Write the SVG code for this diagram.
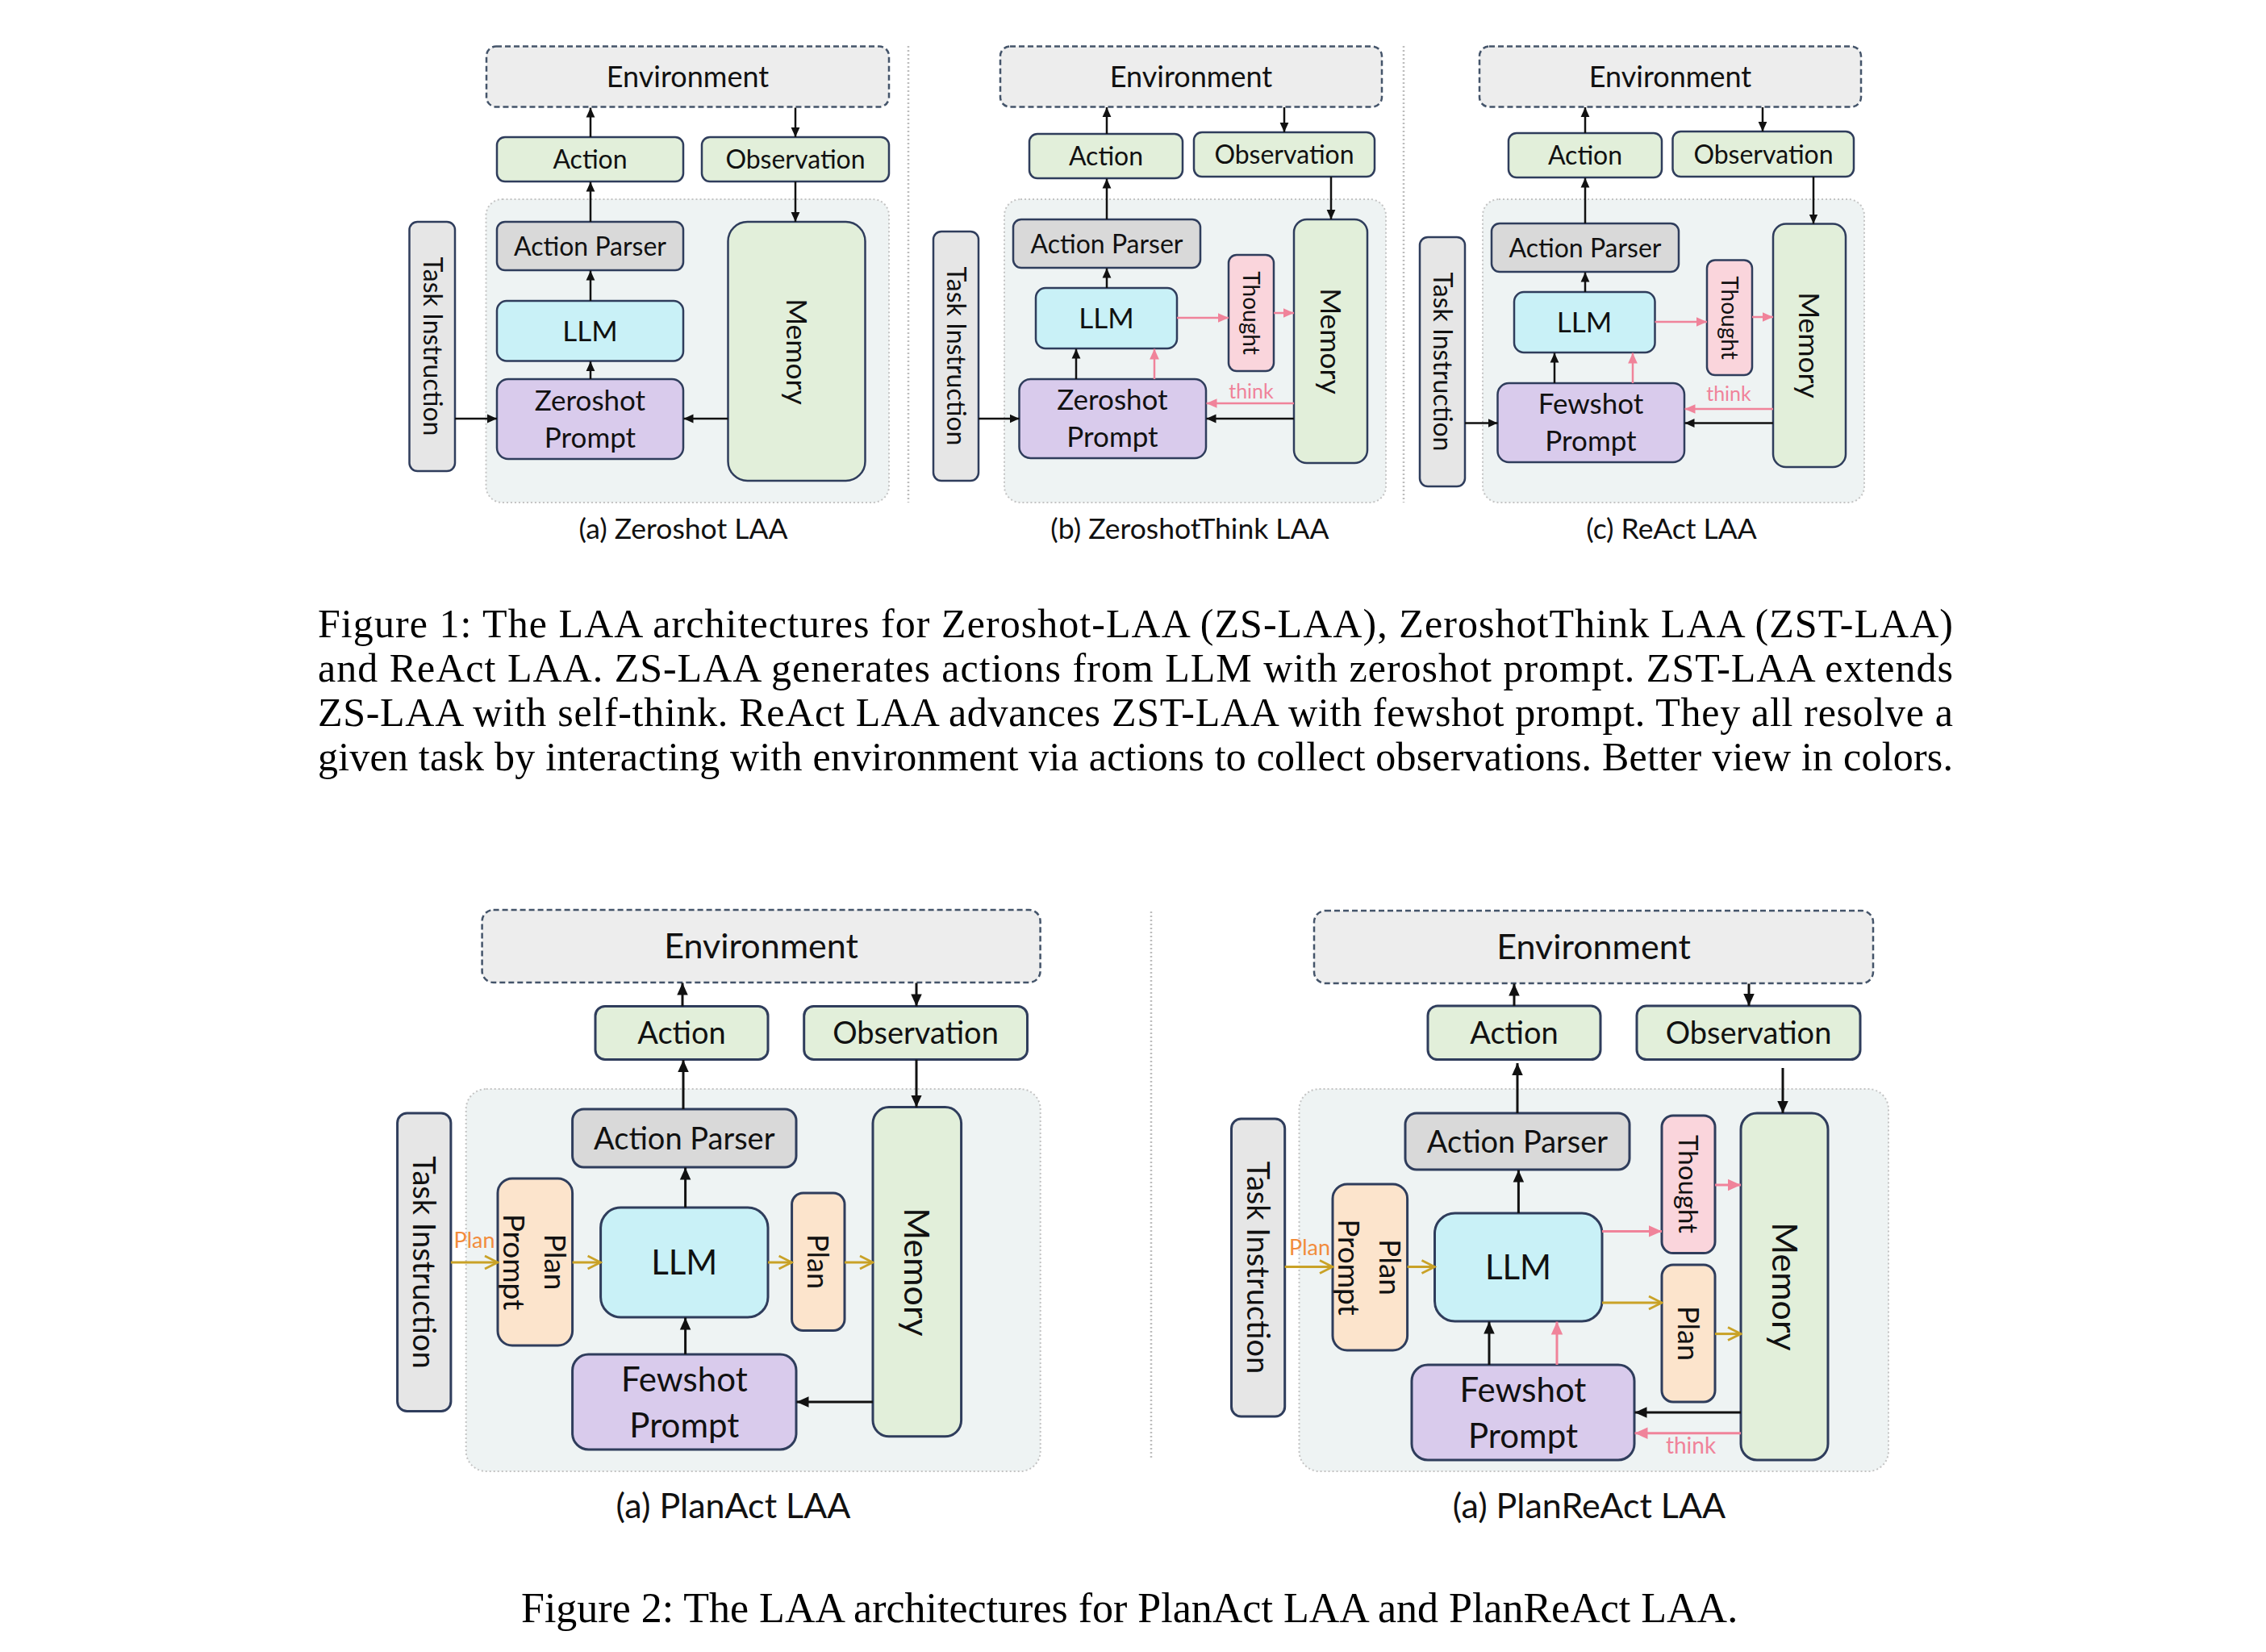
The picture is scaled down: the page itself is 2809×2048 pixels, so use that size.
<svg xmlns="http://www.w3.org/2000/svg" width="2809" height="2048" viewBox="0 0 2809 2048">
<style>
.bg{fill:#ffffff}
.cont{fill:#EEF3F3;stroke:#C4C4C4;stroke-width:2;stroke-dasharray:2 3}
.env{fill:#EDEDED;stroke:#44546A;stroke-width:2.5;stroke-dasharray:7 4}
.n{stroke:#2F3D5C;stroke-width:2.5}
.nb{stroke:#2F3D5C;stroke-width:3}
.green{fill:#E2EFDA}
.gray{fill:#D9D9D9}
.llm{fill:#C9F1F7}
.prompt{fill:#D9CBEC}
.thought{fill:#FAD5DC}
.plan{fill:#FCE4CC}
.task{fill:#E6E6E6}
.div{stroke:#BDBDBD;stroke-width:2.5;stroke-dasharray:2 3;fill:none}
text{font-family:Lato,"Liberation Sans",sans-serif;fill:#111;text-anchor:middle}
.cap{font-family:"Liberation Serif","Times New Roman",serif;text-anchor:start;fill:#000}
.k{stroke:#111;fill:none}
.p{stroke:#F0839A;fill:none}
.g{stroke:#C9A227;fill:none}
.w1{stroke-width:2.5}
.w2{stroke-width:3}
.think{fill:#F0839A}
.planlbl{fill:#F28C3C}
</style>
<defs>
<marker id="ak" viewBox="0 0 10 10" refX="10" refY="5" markerWidth="12" markerHeight="12" markerUnits="userSpaceOnUse" orient="auto"><path d="M0,0.5 L10,5 L0,9.5 z" fill="#111"/></marker>
<marker id="akb" viewBox="0 0 10 10" refX="10" refY="5" markerWidth="15" markerHeight="15" markerUnits="userSpaceOnUse" orient="auto"><path d="M0,0.5 L10,5 L0,9.5 z" fill="#111"/></marker>
<marker id="ap" viewBox="0 0 10 10" refX="10" refY="5" markerWidth="13" markerHeight="13" markerUnits="userSpaceOnUse" orient="auto"><path d="M0,0.5 L10,5 L0,9.5 z" fill="#F0839A"/></marker>
<marker id="apb" viewBox="0 0 10 10" refX="10" refY="5" markerWidth="16" markerHeight="16" markerUnits="userSpaceOnUse" orient="auto"><path d="M0,0.5 L10,5 L0,9.5 z" fill="#F0839A"/></marker>
<marker id="ag" viewBox="0 0 10 10" refX="9" refY="5" markerWidth="20" markerHeight="20" markerUnits="userSpaceOnUse" orient="auto"><path d="M1,1 L9,5 L1,9" fill="none" stroke="#C9A227" stroke-width="1.4"/></marker>
</defs>
<rect class="bg" x="0" y="0" width="2809" height="2048"/>

<!-- containers and dividers -->
<g id="backgrounds">
<rect class="cont" x="602.5" y="247" width="499.5" height="376" rx="20"/>
<rect class="cont" x="1245" y="247" width="473" height="376" rx="20"/>
<rect class="cont" x="1838" y="247" width="473" height="376" rx="20"/>
<rect class="cont" x="577.7" y="1350" width="712" height="474" rx="25"/>
<rect class="cont" x="1610.5" y="1350" width="730.5" height="474" rx="25"/>
<line class="div" x1="1126" y1="57" x2="1126" y2="623"/>
<line class="div" x1="1740" y1="57" x2="1740" y2="623"/>
<line class="div" x1="1427" y1="1130" x2="1427" y2="1810"/>
</g>

<!-- ===== Panel (a) Zeroshot ===== -->
<g id="a-environment"><rect class="env" x="603" y="57.5" width="499" height="75" rx="12"/><text x="852.5" y="108" font-size="36">Environment</text></g>
<g id="a-action"><rect class="n green" x="616" y="170" width="231" height="55" rx="10"/><text x="731.5" y="209" font-size="32">Action</text></g>
<g id="a-observation"><rect class="n green" x="870" y="170" width="232" height="55" rx="10"/><text x="986" y="209" font-size="32">Observation</text></g>
<g id="a-parser"><rect class="n gray" x="616" y="275" width="231" height="60" rx="10"/><text x="731.5" y="316.5" font-size="32">Action Parser</text></g>
<g id="a-llm"><rect class="n llm" x="616" y="373" width="231" height="74.5" rx="12"/><text x="731.5" y="423" font-size="35">LLM</text></g>
<g id="a-prompt"><rect class="n prompt" x="616" y="470" width="231" height="99" rx="14"/><text x="731.5" y="509" font-size="35">Zeroshot</text><text x="731.5" y="555" font-size="35">Prompt</text></g>
<g id="a-memory"><rect class="n green" x="902.5" y="275" width="170" height="321" rx="24"/><text transform="translate(987.5,436) rotate(90)" y="12.6" font-size="35.5">Memory</text></g>
<g id="a-task"><rect class="n task" x="507.5" y="275" width="56.5" height="309" rx="10"/><text transform="translate(536,429.5) rotate(90)" y="11.5" font-size="32">Task Instruction</text></g>
<text x="847" y="668" font-size="35.5">(a) Zeroshot LAA</text>

<!-- ===== Panel (b) ZeroshotThink ===== -->
<g id="b-environment"><rect class="env" x="1240" y="57.5" width="473" height="75" rx="12"/><text x="1476.5" y="108" font-size="36">Environment</text></g>
<g id="b-action"><rect class="n green" x="1276" y="166" width="190" height="55" rx="10"/><text x="1371" y="205" font-size="32">Action</text></g>
<g id="b-observation"><rect class="n green" x="1480" y="164" width="224" height="55" rx="10"/><text x="1592" y="203" font-size="32">Observation</text></g>
<g id="b-parser"><rect class="n gray" x="1256" y="272" width="232" height="60" rx="10"/><text x="1372" y="313.5" font-size="32">Action Parser</text></g>
<g id="b-llm"><rect class="n llm" x="1284" y="357" width="175" height="75" rx="12"/><text x="1371.5" y="407" font-size="35">LLM</text></g>
<g id="b-thought"><rect class="n thought" x="1523" y="316" width="56" height="144" rx="10"/><text transform="translate(1551,388) rotate(90)" y="10" font-size="28">Thought</text></g>
<g id="b-memory"><rect class="n green" x="1604" y="272" width="91" height="302" rx="16"/><text transform="translate(1649.5,423) rotate(90)" y="12.6" font-size="35.5">Memory</text></g>
<g id="b-prompt"><rect class="n prompt" x="1263.5" y="470" width="231.5" height="98" rx="14"/><text x="1379" y="508" font-size="35">Zeroshot</text><text x="1379" y="554" font-size="35">Prompt</text></g>
<g id="b-task"><rect class="n task" x="1157" y="287" width="56" height="309" rx="10"/><text transform="translate(1185,441.5) rotate(90)" y="11.5" font-size="32">Task Instruction</text></g>
<text x="1475" y="668" font-size="35.5">(b) ZeroshotThink LAA</text>

<!-- ===== Panel (c) ReAct ===== -->
<g id="c-environment"><rect class="env" x="1834" y="57.5" width="473" height="75" rx="12"/><text x="2070.5" y="108" font-size="36">Environment</text></g>
<g id="c-action"><rect class="n green" x="1870" y="165" width="190" height="55" rx="10"/><text x="1965" y="204" font-size="32">Action</text></g>
<g id="c-observation"><rect class="n green" x="2073.5" y="163" width="224.5" height="56" rx="10"/><text x="2186" y="202.5" font-size="32">Observation</text></g>
<g id="c-parser"><rect class="n gray" x="1849" y="277" width="232" height="60" rx="10"/><text x="1965" y="318.5" font-size="32">Action Parser</text></g>
<g id="c-llm"><rect class="n llm" x="1877" y="362" width="174.5" height="75" rx="12"/><text x="1964" y="412" font-size="35">LLM</text></g>
<g id="c-thought"><rect class="n thought" x="2116" y="322.5" width="56" height="142.5" rx="10"/><text transform="translate(2144,394) rotate(90)" y="10" font-size="28">Thought</text></g>
<g id="c-memory"><rect class="n green" x="2198" y="277.5" width="90" height="301.5" rx="16"/><text transform="translate(2243,428) rotate(90)" y="12.6" font-size="35.5">Memory</text></g>
<g id="c-prompt"><rect class="n prompt" x="1856.5" y="475" width="231.5" height="98" rx="14"/><text x="1972" y="513" font-size="35">Fewshot</text><text x="1972" y="559" font-size="35">Prompt</text></g>
<g id="c-task"><rect class="n task" x="1760" y="294" width="56" height="309" rx="10"/><text transform="translate(1788,448.5) rotate(90)" y="11.5" font-size="32">Task Instruction</text></g>
<text x="2072" y="668" font-size="35.5">(c) ReAct LAA</text>

<!-- ===== Panel PlanAct ===== -->
<g id="d-environment"><rect class="env" x="597.6" y="1128" width="692" height="90" rx="14"/><text x="943.6" y="1188" font-size="43">Environment</text></g>
<g id="d-action"><rect class="nb green" x="738" y="1247.4" width="214" height="66" rx="12"/><text x="845" y="1294" font-size="38">Action</text></g>
<g id="d-observation"><rect class="nb green" x="996.7" y="1247.4" width="276.8" height="66" rx="12"/><text x="1135" y="1294" font-size="38">Observation</text></g>
<g id="d-parser"><rect class="nb gray" x="709.6" y="1375" width="277.4" height="72" rx="14"/><text x="848.3" y="1424.5" font-size="38">Action Parser</text></g>
<g id="d-planprompt"><rect class="nb plan" x="617" y="1461" width="92.6" height="207" rx="18"/><text transform="translate(663,1564.5) rotate(90)" y="-12" font-size="37">Plan</text><text transform="translate(663,1564.5) rotate(90)" y="39" font-size="37">Prompt</text></g>
<g id="d-llm"><rect class="nb llm" x="744.6" y="1497" width="207.4" height="136" rx="25"/><text x="848.3" y="1580" font-size="42">LLM</text></g>
<g id="d-plan"><rect class="nb plan" x="981.6" y="1479" width="65.4" height="170.5" rx="14"/><text transform="translate(1014.3,1564) rotate(90)" y="13" font-size="36">Plan</text></g>
<g id="d-memory"><rect class="nb green" x="1082" y="1372.6" width="109.6" height="408.2" rx="20"/><text transform="translate(1136.8,1577) rotate(90)" y="15.5" font-size="43">Memory</text></g>
<g id="d-fewshot"><rect class="nb prompt" x="709.6" y="1679" width="277.4" height="118" rx="20"/><text x="848.3" y="1725" font-size="42">Fewshot</text><text x="848.3" y="1782" font-size="42">Prompt</text></g>
<g id="d-task"><rect class="nb task" x="492.6" y="1380" width="66.3" height="369.5" rx="12"/><text transform="translate(525.7,1565) rotate(90)" y="13.5" font-size="38">Task Instruction</text></g>
<text x="909" y="1882" font-size="43">(a) PlanAct LAA</text>

<!-- ===== Panel PlanReAct ===== -->
<g id="e-environment"><rect class="env" x="1629" y="1129" width="693" height="90" rx="14"/><text x="1975.5" y="1189" font-size="43">Environment</text></g>
<g id="e-action"><rect class="nb green" x="1770" y="1247" width="214" height="66.6" rx="12"/><text x="1877" y="1294" font-size="38">Action</text></g>
<g id="e-observation"><rect class="nb green" x="2029" y="1247" width="277" height="66.6" rx="12"/><text x="2167.5" y="1294" font-size="38">Observation</text></g>
<g id="e-parser"><rect class="nb gray" x="1742" y="1380" width="278" height="70" rx="14"/><text x="1881" y="1428.5" font-size="38">Action Parser</text></g>
<g id="e-planprompt"><rect class="nb plan" x="1652" y="1468" width="92.6" height="206" rx="18"/><text transform="translate(1698,1571) rotate(90)" y="-12" font-size="37">Plan</text><text transform="translate(1698,1571) rotate(90)" y="39" font-size="37">Prompt</text></g>
<g id="e-llm"><rect class="nb llm" x="1778.5" y="1504" width="207.5" height="134" rx="25"/><text x="1882" y="1586" font-size="42">LLM</text></g>
<g id="e-thought"><rect class="nb thought" x="2060" y="1383" width="66" height="170.6" rx="14"/><text transform="translate(2093,1468) rotate(90)" y="12" font-size="33">Thought</text></g>
<g id="e-plan"><rect class="nb plan" x="2060" y="1568" width="66" height="170" rx="14"/><text transform="translate(2093,1653) rotate(90)" y="13" font-size="36">Plan</text></g>
<g id="e-memory"><rect class="nb green" x="2158" y="1380" width="108" height="430" rx="20"/><text transform="translate(2212,1595) rotate(90)" y="15.5" font-size="43">Memory</text></g>
<g id="e-fewshot"><rect class="nb prompt" x="1750" y="1692" width="276" height="118" rx="20"/><text x="1888" y="1738" font-size="42">Fewshot</text><text x="1888" y="1795" font-size="42">Prompt</text></g>
<g id="e-task"><rect class="nb task" x="1526.5" y="1387" width="66.2" height="369" rx="12"/><text transform="translate(1559.6,1571.5) rotate(90)" y="13.5" font-size="38">Task Instruction</text></g>
<text x="1970" y="1882" font-size="43">(a) PlanReAct LAA</text>

<!-- ===== Connectors ===== -->
<g id="connectors">
<!-- (a) -->
<line class="k w1" x1="732" y1="170" x2="732" y2="133.5" marker-end="url(#ak)"/>
<line class="k w1" x1="986" y1="133.5" x2="986" y2="170" marker-end="url(#ak)"/>
<line class="k w1" x1="732" y1="275" x2="732" y2="225.5" marker-end="url(#ak)"/>
<line class="k w1" x1="732" y1="373" x2="732" y2="335.5" marker-end="url(#ak)"/>
<line class="k w1" x1="732" y1="470" x2="732" y2="448" marker-end="url(#ak)"/>
<line class="k w1" x1="986" y1="225" x2="986" y2="275" marker-end="url(#ak)"/>
<line class="k w1" x1="564" y1="519" x2="616" y2="519" marker-end="url(#ak)"/>
<line class="k w1" x1="902.5" y1="519" x2="847.5" y2="519" marker-end="url(#ak)"/>
<!-- (b) -->
<line class="k w1" x1="1372" y1="166" x2="1372" y2="133" marker-end="url(#ak)"/>
<line class="k w1" x1="1592" y1="133" x2="1592" y2="164" marker-end="url(#ak)"/>
<line class="k w1" x1="1372" y1="272" x2="1372" y2="221.5" marker-end="url(#ak)"/>
<line class="k w1" x1="1372" y1="357" x2="1372" y2="332.5" marker-end="url(#ak)"/>
<line class="k w1" x1="1334" y1="470" x2="1334" y2="432.5" marker-end="url(#ak)"/>
<line class="p w1" x1="1431" y1="470" x2="1431" y2="432.5" marker-end="url(#ap)"/>
<line class="p w1" x1="1459" y1="394" x2="1523" y2="394" marker-end="url(#ap)"/>
<line class="p w1" x1="1579" y1="388" x2="1604" y2="388" marker-end="url(#ap)"/>
<line class="k w1" x1="1650" y1="219" x2="1650" y2="272" marker-end="url(#ak)"/>
<line class="p w1" x1="1604" y1="500" x2="1495.5" y2="500" marker-end="url(#ap)"/>
<line class="k w1" x1="1604" y1="519" x2="1495.5" y2="519" marker-end="url(#ak)"/>
<line class="k w1" x1="1213" y1="519" x2="1263.5" y2="519" marker-end="url(#ak)"/>
<text class="think" x="1551" y="494" font-size="25">think</text>
<!-- (c) -->
<line class="k w1" x1="1965" y1="165" x2="1965" y2="133" marker-end="url(#ak)"/>
<line class="k w1" x1="2185" y1="133" x2="2185" y2="163" marker-end="url(#ak)"/>
<line class="k w1" x1="1965" y1="277" x2="1965" y2="220.5" marker-end="url(#ak)"/>
<line class="k w1" x1="1965" y1="362" x2="1965" y2="337.5" marker-end="url(#ak)"/>
<line class="k w1" x1="1927" y1="475" x2="1927" y2="437.5" marker-end="url(#ak)"/>
<line class="p w1" x1="2024" y1="475" x2="2024" y2="437.5" marker-end="url(#ap)"/>
<line class="p w1" x1="2051.5" y1="399" x2="2116" y2="399" marker-end="url(#ap)"/>
<line class="p w1" x1="2172" y1="393" x2="2198" y2="393" marker-end="url(#ap)"/>
<line class="k w1" x1="2248" y1="219" x2="2248" y2="277.5" marker-end="url(#ak)"/>
<line class="p w1" x1="2198" y1="507" x2="2088.5" y2="507" marker-end="url(#ap)"/>
<line class="k w1" x1="2198" y1="524.5" x2="2088.5" y2="524.5" marker-end="url(#ak)"/>
<line class="k w1" x1="1816" y1="524.5" x2="1856.5" y2="524.5" marker-end="url(#ak)"/>
<text class="think" x="2143" y="497" font-size="25">think</text>
<!-- PlanAct -->
<line class="k w2" x1="846" y1="1247.4" x2="846" y2="1218.5" marker-end="url(#akb)"/>
<line class="k w2" x1="1136" y1="1218.5" x2="1136" y2="1247.4" marker-end="url(#akb)"/>
<line class="k w2" x1="847" y1="1375" x2="847" y2="1314" marker-end="url(#akb)"/>
<line class="k w2" x1="849.6" y1="1497" x2="849.6" y2="1447.5" marker-end="url(#akb)"/>
<line class="k w2" x1="849.6" y1="1679" x2="849.6" y2="1633.5" marker-end="url(#akb)"/>
<line class="k w2" x1="1136" y1="1313.6" x2="1136" y2="1372.6" marker-end="url(#akb)"/>
<line class="k w2" x1="1082" y1="1738" x2="987.5" y2="1738" marker-end="url(#akb)"/>
<line class="g w2" x1="558.9" y1="1565" x2="617" y2="1565" marker-end="url(#ag)"/>
<line class="g w2" x1="709.6" y1="1565" x2="744.6" y2="1565" marker-end="url(#ag)"/>
<line class="g w2" x1="952" y1="1565" x2="981.6" y2="1565" marker-end="url(#ag)"/>
<line class="g w2" x1="1047" y1="1565" x2="1082" y2="1565" marker-end="url(#ag)"/>
<text class="planlbl" x="588" y="1547" font-size="27">Plan</text>
<!-- PlanReAct -->
<line class="k w2" x1="1877" y1="1247" x2="1877" y2="1219.5" marker-end="url(#akb)"/>
<line class="k w2" x1="2168" y1="1219.5" x2="2168" y2="1247" marker-end="url(#akb)"/>
<line class="k w2" x1="1881" y1="1380" x2="1881" y2="1318" marker-end="url(#akb)"/>
<line class="k w2" x1="1882.4" y1="1504" x2="1882.4" y2="1450.5" marker-end="url(#akb)"/>
<line class="k w2" x1="1846" y1="1692" x2="1846" y2="1638.5" marker-end="url(#akb)"/>
<line class="p w2" x1="1930" y1="1692" x2="1930" y2="1638.5" marker-end="url(#apb)"/>
<line class="p w2" x1="1986" y1="1526.4" x2="2060" y2="1526.4" marker-end="url(#apb)"/>
<line class="p w2" x1="2126" y1="1469" x2="2158" y2="1469" marker-end="url(#apb)"/>
<line class="g w2" x1="1986" y1="1615" x2="2060" y2="1615" marker-end="url(#ag)"/>
<line class="g w2" x1="2126" y1="1653.6" x2="2158" y2="1653.6" marker-end="url(#ag)"/>
<line class="k w2" x1="2210" y1="1324" x2="2210" y2="1380" marker-end="url(#akb)"/>
<line class="k w2" x1="2158" y1="1751" x2="2026.5" y2="1751" marker-end="url(#akb)"/>
<line class="p w2" x1="2158" y1="1776.7" x2="2026.5" y2="1776.7" marker-end="url(#apb)"/>
<line class="g w2" x1="1592.7" y1="1570.5" x2="1652" y2="1570.5" marker-end="url(#ag)"/>
<line class="g w2" x1="1744.6" y1="1570.5" x2="1778.5" y2="1570.5" marker-end="url(#ag)"/>
<text class="think" x="2096" y="1802" font-size="28">think</text>
<text class="planlbl" x="1623.5" y="1556" font-size="27">Plan</text>
</g>

<!-- ===== Captions ===== -->
<g id="captions">
<text class="cap" x="394" y="790" font-size="50" textLength="2027" lengthAdjust="spacing">Figure 1:  The LAA architectures for Zeroshot-LAA (ZS-LAA), ZeroshotThink LAA (ZST-LAA)</text>
<text class="cap" x="394" y="845" font-size="50" textLength="2027" lengthAdjust="spacing">and ReAct LAA. ZS-LAA generates actions from LLM with zeroshot prompt.  ZST-LAA extends</text>
<text class="cap" x="394" y="900" font-size="50" textLength="2027" lengthAdjust="spacing">ZS-LAA with self-think. ReAct LAA advances ZST-LAA with fewshot prompt. They all resolve a</text>
<text class="cap" x="394" y="955" font-size="50" textLength="2027" lengthAdjust="spacing">given task by interacting with environment via actions to collect observations. Better view in colors.</text>
<text class="cap" x="646" y="2011" font-size="52">Figure 2: The LAA architectures for PlanAct LAA and PlanReAct LAA.</text>
</g>
</svg>
